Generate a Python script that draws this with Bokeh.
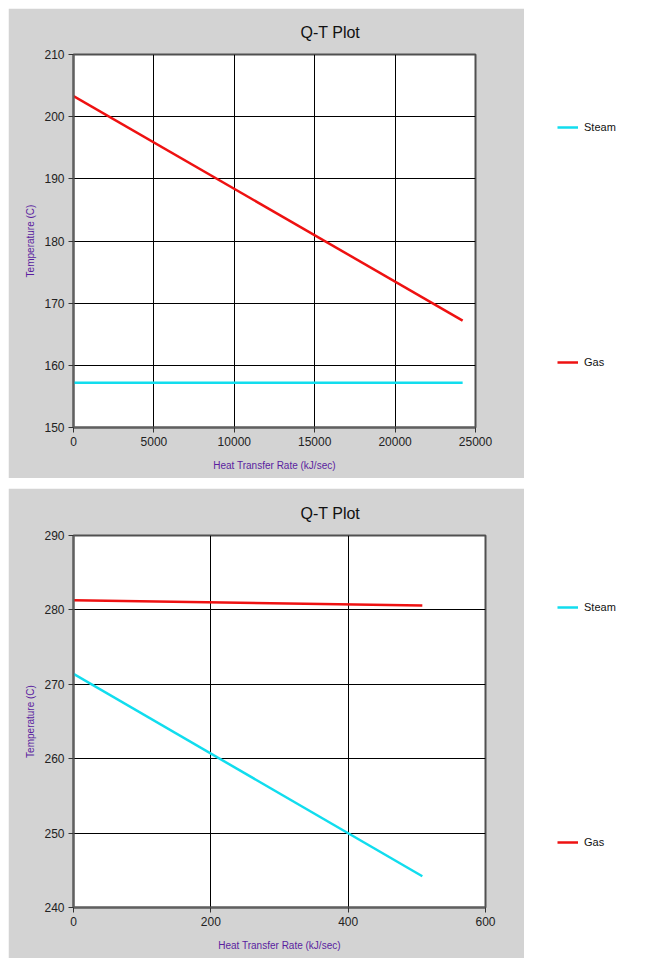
from bokeh.plotting import figure
from bokeh.models import Range1d, FixedTicker, Legend, LegendItem
from bokeh.layouts import row, column
from bokeh.embed import file_html
from bokeh.resources import INLINE

# ---------------- data ----------------
TITLE = "Q-T Plot"
X_LABEL = "Heat Transfer Rate (kJ/sec)"
Y_LABEL = "Temperature (C)"
SERIES = ["Steam", "Gas"]
COLORS = ["#11DDEE", "#EE1111"]

# Panel 1
q1 = [0, 24200]
steam1 = [157.2, 157.2]
gas1 = [203.3, 167.2]
x1_ticks = [0, 5000, 10000, 15000, 20000, 25000]
y1_ticks = [150, 160, 170, 180, 190, 200, 210]

# Panel 2
q2 = [0, 508]
steam2 = [271.4, 244.2]
gas2 = [281.3, 280.6]
x2_ticks = [0, 200, 400, 600]
y2_ticks = [240, 250, 260, 270, 280, 290]

FONT = "Liberation Sans"
GRAY = "#D3D3D3"
PURPLE = "#5A1EA0"


def make_panel(q, steam, gas, xt, yt, right_border, top_border):
    p = figure(width=516, height=470, output_backend="svg", toolbar_location=None,
               x_range=Range1d(xt[0], xt[-1]), y_range=Range1d(yt[0], yt[-1]),
               min_border_left=65, min_border_right=right_border,
               min_border_top=top_border, min_border_bottom=51)
    p.border_fill_color = GRAY
    p.background_fill_color = "white"
    p.outline_line_color = "#505050"
    p.outline_line_width = 2

    p.title.text = TITLE
    p.title.text_font = FONT
    p.title.text_font_size = "16px"
    p.title.text_font_style = "normal"
    p.title.text_color = "#111111"
    p.title.align = "left"
    p.title.offset = 227
    p.title.standoff = 27

    p.xaxis.ticker = FixedTicker(ticks=xt)
    p.yaxis.ticker = FixedTicker(ticks=yt)
    for ax in (p.xaxis[0], p.yaxis[0]):
        ax.axis_line_color = "#606060"
        ax.axis_line_width = 2
        ax.major_tick_in = 0
        ax.major_tick_out = 5
        ax.major_tick_line_color = "#333333"
        ax.minor_tick_line_color = None
        ax.major_label_text_font = FONT
        ax.major_label_text_font_size = "12px"
        ax.major_label_text_color = "#222222"
        ax.major_label_standoff = 4
        ax.axis_label_text_font = FONT
        ax.axis_label_text_font_size = "10px"
        ax.axis_label_text_font_style = "normal"
        ax.axis_label_text_color = PURPLE
    p.xaxis.axis_label = X_LABEL
    p.yaxis.axis_label = Y_LABEL
    p.xaxis.axis_label_standoff = 11
    p.yaxis.axis_label_standoff = 5

    p.xgrid.ticker = FixedTicker(ticks=xt)
    p.ygrid.ticker = FixedTicker(ticks=yt)
    p.grid.grid_line_color = "#000000"
    p.grid.grid_line_width = 1

    p.line(q, steam, line_color=COLORS[0], line_width=2.5)
    p.line(q, gas, line_color=COLORS[1], line_width=2.5)
    return p


def make_legend_fig():
    lf = figure(width=108, height=470, output_backend="svg", toolbar_location=None,
                x_range=Range1d(0, 1), y_range=Range1d(0, 1),
                min_border=0)
    lf.axis.visible = False
    lf.grid.visible = False
    lf.outline_line_color = None
    lf.background_fill_color = "white"
    lf.border_fill_color = "white"
    ys = [294, 59]
    for name, color, y in zip(SERIES, COLORS, ys):
        # off-range placeholder line, used only for the legend swatch
        r = lf.line(x=[-5, -4], y=[-5, -4], line_color=color, line_width=2.5)
        lg = Legend(items=[LegendItem(label=name, renderers=[r])],
                    location=(33, y), padding=0, margin=0, spacing=0,
                    glyph_width=21, glyph_height=12, label_height=12,
                    label_standoff=6, border_line_color=None,
                    background_fill_alpha=0,
                    label_text_font=FONT, label_text_font_size="11px",
                    label_text_color="#111111")
        lf.add_layout(lg)
    return lf


p1 = make_panel(q1, steam1, gas1, x1_ticks, y1_ticks, 49, 46)
p2 = make_panel(q2, steam2, gas2, x2_ticks, y2_ticks, 39, 47)
l1 = make_legend_fig()
l2 = make_legend_fig()

layout = column(row(p1, l1, spacing=0), row(p2, l2, spacing=0), spacing=10,
                margin=(8, 0, 0, 8))

open("out.html", "w").write(file_html(layout, INLINE))
